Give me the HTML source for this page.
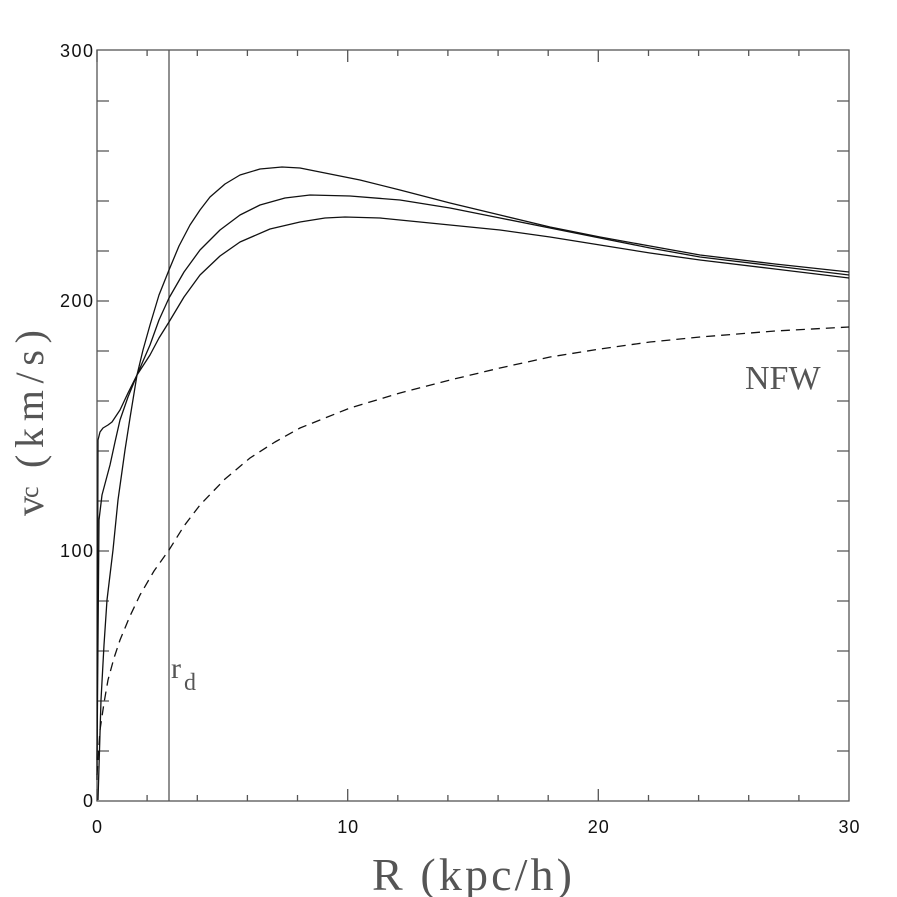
<!DOCTYPE html>
<html><head><style>
body{margin:0;background:#fff}
svg{display:block}
.t{font-family:"Liberation Sans",sans-serif;font-size:18px;fill:#111}
.s{font-family:"Liberation Serif",serif;fill:#555}
</style></head><body>
<svg width="897" height="897" viewBox="0 0 897 897">
<g stroke="#555" stroke-width="1.3" fill="none">
<rect x="97" y="50" width="752" height="751"/>
<path d="M97,801v-12M147.1,801v-6M197.3,801v-6M247.4,801v-6M297.5,801v-6M347.7,801v-12M397.8,801v-6M447.9,801v-6M498.1,801v-6M548.2,801v-6M598.3,801v-12M648.5,801v-6M698.6,801v-6M748.7,801v-6M798.9,801v-6
M97,50v12M147.1,50v6M197.3,50v6M247.4,50v6M297.5,50v6M347.7,50v12M397.8,50v6M447.9,50v6M498.1,50v6M548.2,50v6M598.3,50v12M648.5,50v6M698.6,50v6M748.7,50v6M798.9,50v6"/>
<path d="M97,751h12M97,701h12M97,651h12M97,601h12M97,551h12M97,501h12M97,451h12M97,401h12M97,351h12M97,301h12M97,251h12M97,201h12M97,151h12M97,101h12
M849,751h-12M849,701h-12M849,651h-12M849,601h-12M849,551h-12M849,501h-12M849,451h-12M849,401h-12M849,351h-12M849,301h-12M849,251h-12M849,201h-12M849,151h-12M849,101h-12"/>
<path d="M169,50V801"/>
</g>
<g stroke="#111" stroke-width="1.3" fill="none" stroke-linejoin="round">
<polyline points="98,800 101,700 104,645 107,600 113,550 118,500 125,450 130,418 137,375 143,350 150,325 159,295 169,270 179,246 190,225 200,210 210,197 225,184 240,175 260,169 282,167 300,168 320,172 360,180 400,190 450,203 500,215 550,227 600,237 650,246 700,255 775,264 849,272"/>
<polyline points="97,760 99,520 102,495 110,465 115,442 120,420 128,397 137,375 150,345 159,320 169,298 184,272 200,250 220,230 240,215 260,205 285,198 310,195 350,196 400,200 450,208 500,218 550,228 600,238 650,248 700,257 775,266 849,275"/>
<polyline points="97,780 98,440 100,432 103,428 108,425 112,422 120,410 128,393 137,375 150,355 159,338 169,322 184,297 200,275 220,256 240,242 270,229 300,222 325,218 345,217 380,218 420,222 460,226 500,230 550,237 600,245 650,253 700,260 775,269 849,278"/>
<polyline stroke-dasharray="9,6" points="97,775 100,730 104,703 108,680 114,658 120,640 130,616 140,595 154,571 169,550 184,526 200,505 225,479 250,458 275,442 300,428 350,408 400,393 450,380 500,368 550,357 600,349 650,342 700,337 775,331 849,327"/>
</g>
<g class="t">
<text x="93" y="57" text-anchor="end" textLength="33">300</text>
<text x="93" y="307" text-anchor="end" textLength="33">200</text>
<text x="93" y="557" text-anchor="end" textLength="33">100</text>
<text x="93" y="807" text-anchor="end">0</text>
<text x="97" y="833" text-anchor="middle">0</text>
<text x="347.7" y="833" text-anchor="middle" textLength="21">10</text>
<text x="598.3" y="833" text-anchor="middle" textLength="21">20</text>
<text x="849" y="833" text-anchor="middle" textLength="21">30</text>
</g>
<text class="s" x="372" y="890" font-size="46" textLength="200" lengthAdjust="spacing">R (kpc/h)</text>
<g transform="rotate(-90)">
<text class="s" x="-516" y="43" font-size="40">v</text>
<text class="s" x="-498" y="38" font-size="26">c</text>
<text class="s" x="-468" y="43" font-size="40" textLength="138" lengthAdjust="spacing">(km/s)</text>
</g>
<text class="s" x="745" y="389" font-size="34">NFW</text>
<text class="s" x="171" y="678" font-size="30">r</text>
<text class="s" x="184" y="690" font-size="24">d</text>
</svg>
</body></html>
